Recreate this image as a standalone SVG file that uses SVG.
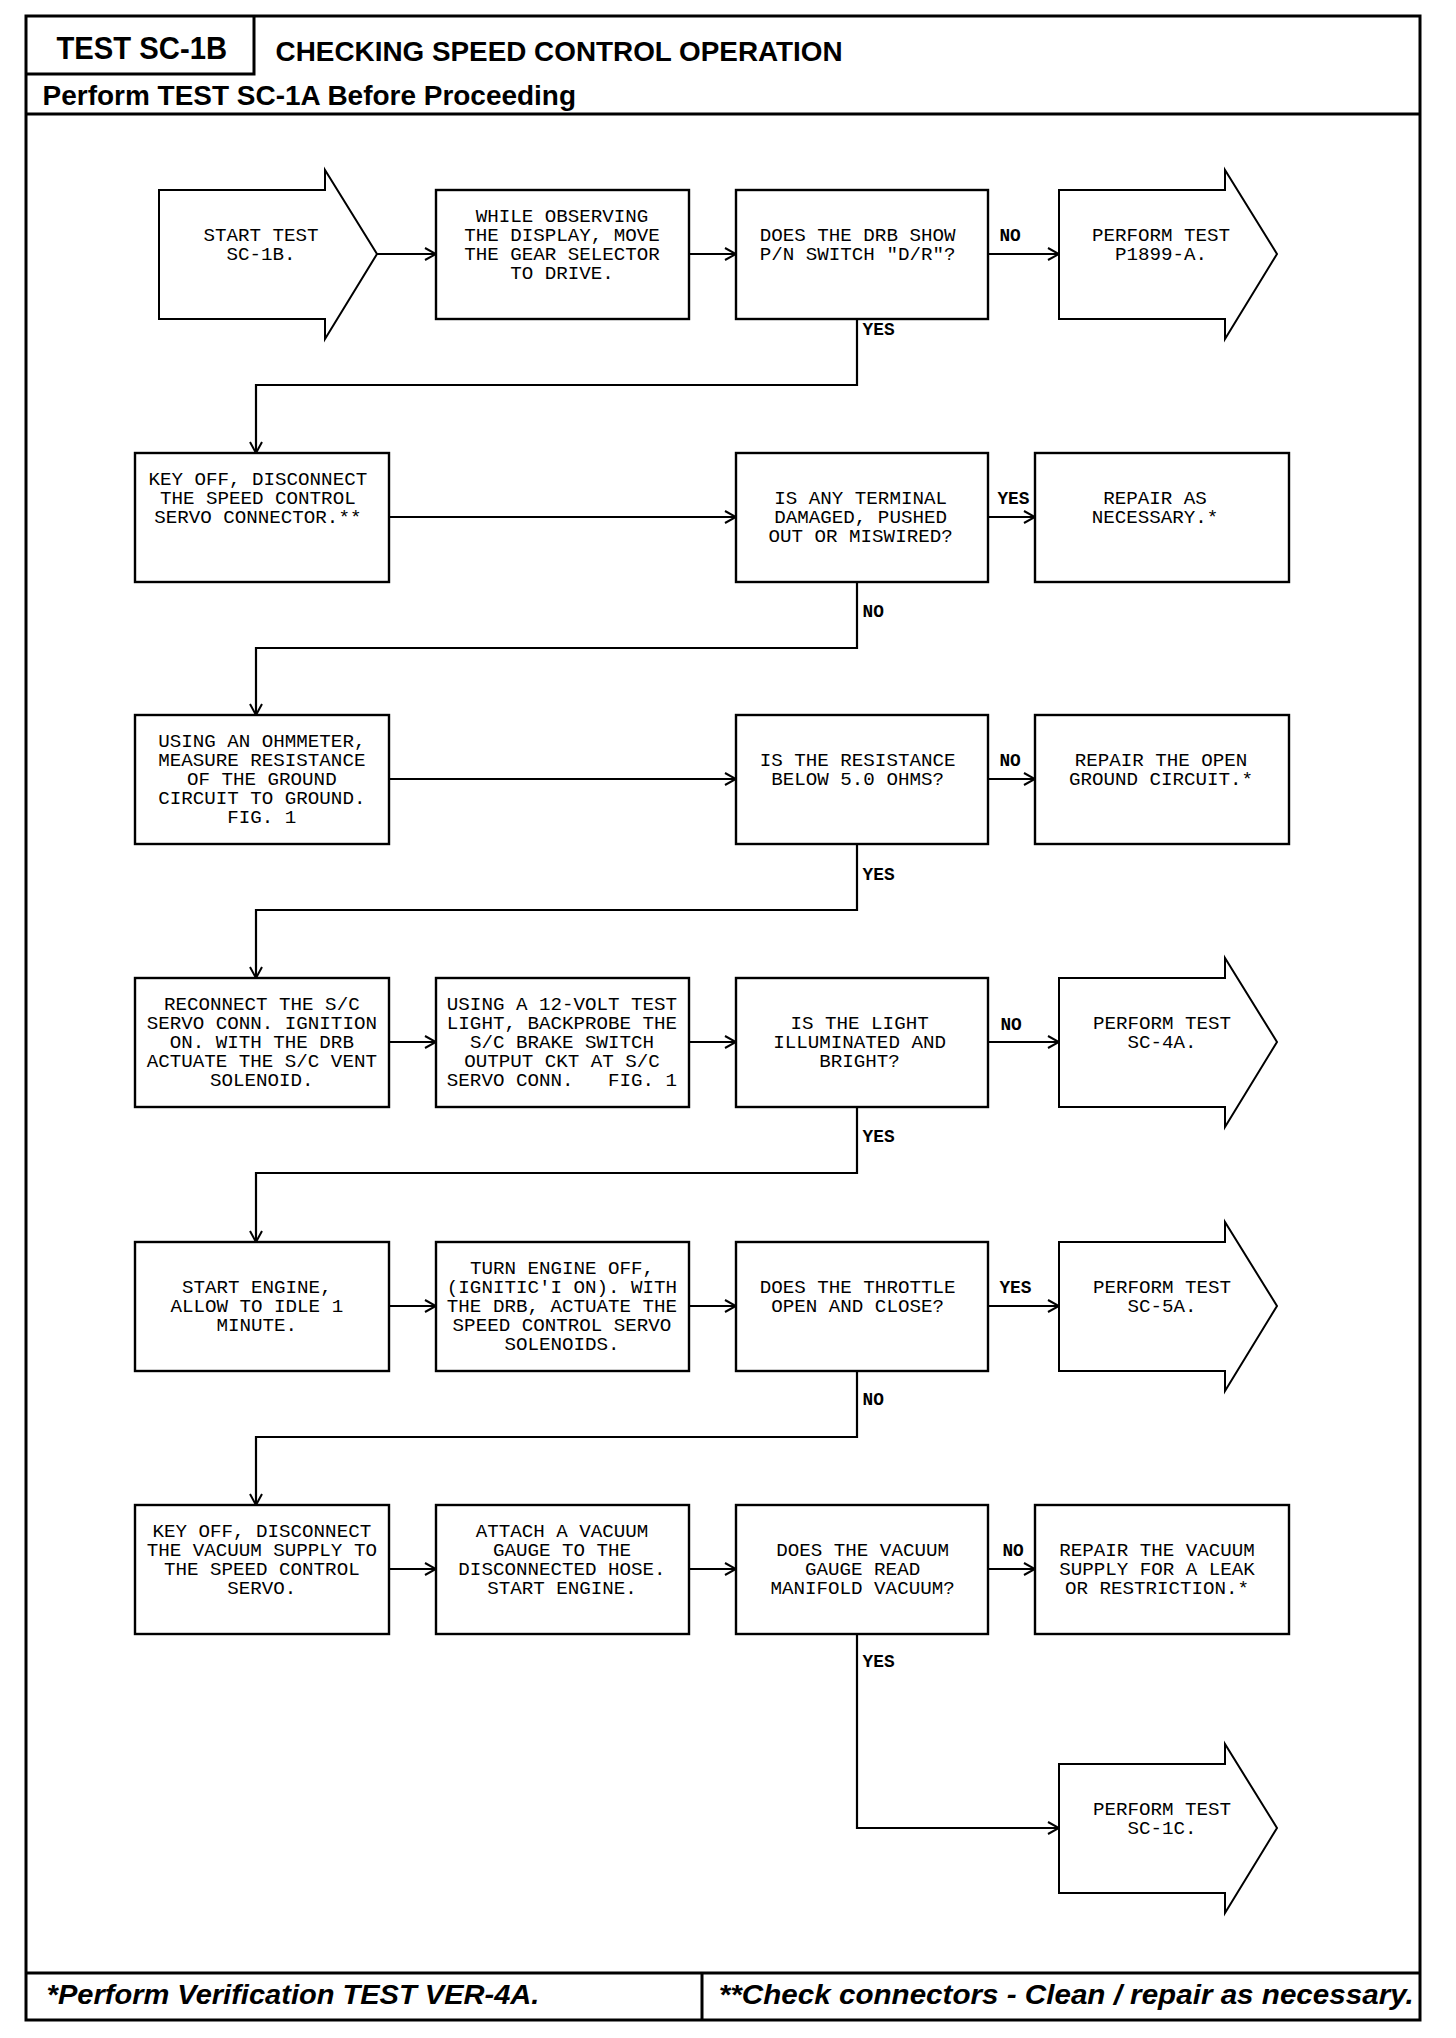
<svg xmlns="http://www.w3.org/2000/svg" width="1456" height="2038" viewBox="0 0 1456 2038">
<style>
.frame{fill:none;stroke:#000;stroke-width:3}
.box{fill:#fff;stroke:#000;stroke-width:2.4}
.arr{fill:#fff;stroke:#000;stroke-width:2;stroke-linejoin:miter}
.con{fill:none;stroke:#000;stroke-width:2.2}
.t{font-family:"Liberation Mono","DejaVu Sans Mono",monospace;font-size:19.2px;fill:#000;text-anchor:middle}
.lb{font-family:"Liberation Mono","DejaVu Sans Mono",monospace;font-size:17.8px;font-weight:bold;fill:#000}
.h{font-family:"Liberation Sans",Arial,sans-serif;font-weight:bold;fill:#000}
.f{font-family:"Liberation Sans",Arial,sans-serif;font-weight:bold;font-style:italic;fill:#000}
</style>
<defs>
<marker id="ah" markerUnits="userSpaceOnUse" markerWidth="14" markerHeight="14" viewBox="0 0 14 14" refX="13" refY="7" orient="auto">
<path d="M2,1 L13,7 L2,13" fill="none" stroke="#000" stroke-width="2"/>
</marker>
</defs>
<rect width="1456" height="2038" fill="#fff"/>
<g id="frame">
<rect class="frame" x="26" y="16" width="1394" height="2004"/>
<path class="frame" d="M254,16 V74 H26"/>
<path class="frame" d="M26,114 H1420"/>
<path class="frame" d="M26,1973 H1420 M702,1973 V2020"/>
<text class="h" x="56.5" y="58.5" font-size="31.7" textLength="170.5" lengthAdjust="spacingAndGlyphs">TEST SC-1B</text>
<text class="h" x="275.6" y="60.5" font-size="27.8" textLength="567" lengthAdjust="spacingAndGlyphs">CHECKING SPEED CONTROL OPERATION</text>
<text class="h" x="42.6" y="105" font-size="26.8" textLength="533.4" lengthAdjust="spacingAndGlyphs">Perform TEST SC-1A Before Proceeding</text>
<text class="f" x="46.6" y="2004" font-size="27.8" textLength="492.8" lengthAdjust="spacingAndGlyphs">*Perform Verification TEST VER-4A.</text>
<text class="f" x="718.8" y="2004" font-size="27.8" textLength="695" lengthAdjust="spacingAndGlyphs">**Check connectors - Clean / repair as necessary.</text>
</g>
<g id="connectors">
<path class="con" d="M377,254 H436" marker-end="url(#ah)"/>
<path class="con" d="M689,254 H736" marker-end="url(#ah)"/>
<path class="con" d="M988,254 H1059" marker-end="url(#ah)"/>
<path class="con" d="M857,319 V385 H256 V453" marker-end="url(#ah)"/>
<path class="con" d="M389,517 H736" marker-end="url(#ah)"/>
<path class="con" d="M988,517 H1035" marker-end="url(#ah)"/>
<path class="con" d="M857,582 V648 H256 V715" marker-end="url(#ah)"/>
<path class="con" d="M389,779 H736" marker-end="url(#ah)"/>
<path class="con" d="M988,779 H1035" marker-end="url(#ah)"/>
<path class="con" d="M857,844 V910 H256 V978" marker-end="url(#ah)"/>
<path class="con" d="M389,1042 H436" marker-end="url(#ah)"/>
<path class="con" d="M689,1042 H736" marker-end="url(#ah)"/>
<path class="con" d="M988,1042 H1059" marker-end="url(#ah)"/>
<path class="con" d="M857,1107 V1173 H256 V1242" marker-end="url(#ah)"/>
<path class="con" d="M389,1306 H436" marker-end="url(#ah)"/>
<path class="con" d="M689,1306 H736" marker-end="url(#ah)"/>
<path class="con" d="M988,1306 H1059" marker-end="url(#ah)"/>
<path class="con" d="M857,1371 V1437 H256 V1505" marker-end="url(#ah)"/>
<path class="con" d="M389,1569 H436" marker-end="url(#ah)"/>
<path class="con" d="M689,1569 H736" marker-end="url(#ah)"/>
<path class="con" d="M988,1569 H1035" marker-end="url(#ah)"/>
<path class="con" d="M857,1634 V1828 H1059" marker-end="url(#ah)"/>
<text class="lb" x="999.4" y="241">NO</text>
<text class="lb" x="862.6" y="335">YES</text>
<text class="lb" x="997.4" y="503.7">YES</text>
<text class="lb" x="862.6" y="616.7">NO</text>
<text class="lb" x="999.4" y="766.4">NO</text>
<text class="lb" x="862.6" y="879.5">YES</text>
<text class="lb" x="1000.4" y="1030.2">NO</text>
<text class="lb" x="862.6" y="1142.2">YES</text>
<text class="lb" x="999.4" y="1292.9">YES</text>
<text class="lb" x="862.6" y="1405">NO</text>
<text class="lb" x="1002.4" y="1555.7">NO</text>
<text class="lb" x="862.6" y="1666.7">YES</text>
</g>
<g id="start">
<polygon class="arr" points="159,190 325,190 325,170 377,254 325,339 325,319 159,319"/>
<text class="t" y="240.7"><tspan x="261">START TEST</tspan><tspan x="261" dy="19">SC-1B.</tspan></text>
</g>
<g id="observe">
<rect class="box" x="436" y="190" width="253" height="129"/>
<text class="t" y="221.7"><tspan x="562">WHILE OBSERVING</tspan><tspan x="562" dy="19">THE DISPLAY, MOVE</tspan><tspan x="562" dy="19">THE GEAR SELECTOR</tspan><tspan x="562" dy="19">TO DRIVE.</tspan></text>
</g>
<g id="q-drb">
<rect class="box" x="736" y="190" width="252" height="129"/>
<text class="t" y="240.7"><tspan x="857.6">DOES THE DRB SHOW</tspan><tspan x="857.6" dy="19">P/N SWITCH "D/R"?</tspan></text>
</g>
<g id="p1899">
<polygon class="arr" points="1059,190 1225,190 1225,170 1277,254 1225,339 1225,319 1059,319"/>
<text class="t" y="240.7"><tspan x="1161">PERFORM TEST</tspan><tspan x="1161" dy="19">P1899-A.</tspan></text>
</g>
<g id="keyoff1">
<rect class="box" x="135" y="453" width="254" height="129"/>
<text class="t" y="484.7"><tspan x="257.8">KEY OFF, DISCONNECT</tspan><tspan x="257.8" dy="19">THE SPEED CONTROL</tspan><tspan x="257.8" dy="19">SERVO CONNECTOR.**</tspan></text>
</g>
<g id="q-terminal">
<rect class="box" x="736" y="453" width="252" height="129"/>
<text class="t" y="503.7"><tspan x="860.6">IS ANY TERMINAL</tspan><tspan x="860.6" dy="19">DAMAGED, PUSHED</tspan><tspan x="860.6" dy="19">OUT OR MISWIRED?</tspan></text>
</g>
<g id="repair1">
<rect class="box" x="1035" y="453" width="254" height="129"/>
<text class="t" y="503.7"><tspan x="1155">REPAIR AS</tspan><tspan x="1155" dy="19">NECESSARY.*</tspan></text>
</g>
<g id="ohmmeter">
<rect class="box" x="135" y="715" width="254" height="129"/>
<text class="t" y="746.7"><tspan x="261.8">USING AN OHMMETER,</tspan><tspan x="261.8" dy="19">MEASURE RESISTANCE</tspan><tspan x="261.8" dy="19">OF THE GROUND</tspan><tspan x="261.8" dy="19">CIRCUIT TO GROUND.</tspan><tspan x="261.8" dy="19">FIG. 1</tspan></text>
</g>
<g id="q-resistance">
<rect class="box" x="736" y="715" width="252" height="129"/>
<text class="t" y="765.7"><tspan x="857.6">IS THE RESISTANCE</tspan><tspan x="857.6" dy="19">BELOW 5.0 OHMS?</tspan></text>
</g>
<g id="repair2">
<rect class="box" x="1035" y="715" width="254" height="129"/>
<text class="t" y="765.7"><tspan x="1161">REPAIR THE OPEN</tspan><tspan x="1161" dy="19">GROUND CIRCUIT.*</tspan></text>
</g>
<g id="reconnect">
<rect class="box" x="135" y="978" width="254" height="129"/>
<text class="t" y="1009.7"><tspan x="261.8">RECONNECT THE S/C</tspan><tspan x="261.8" dy="19">SERVO CONN. IGNITION</tspan><tspan x="261.8" dy="19">ON. WITH THE DRB</tspan><tspan x="261.8" dy="19">ACTUATE THE S/C VENT</tspan><tspan x="261.8" dy="19">SOLENOID.</tspan></text>
</g>
<g id="testlight">
<rect class="box" x="436" y="978" width="253" height="129"/>
<text class="t" y="1009.7"><tspan x="562">USING A 12-VOLT TEST</tspan><tspan x="562" dy="19">LIGHT, BACKPROBE THE</tspan><tspan x="562" dy="19">S/C BRAKE SWITCH</tspan><tspan x="562" dy="19">OUTPUT CKT AT S/C</tspan><tspan x="562" dy="19" xml:space="preserve">SERVO CONN.   FIG. 1</tspan></text>
</g>
<g id="q-light">
<rect class="box" x="736" y="978" width="252" height="129"/>
<text class="t" y="1028.7"><tspan x="859.6">IS THE LIGHT</tspan><tspan x="859.6" dy="19">ILLUMINATED AND</tspan><tspan x="859.6" dy="19">BRIGHT?</tspan></text>
</g>
<g id="sc4a">
<polygon class="arr" points="1059,978 1225,978 1225,958 1277,1042 1225,1127 1225,1107 1059,1107"/>
<text class="t" y="1028.7"><tspan x="1162">PERFORM TEST</tspan><tspan x="1162" dy="19">SC-4A.</tspan></text>
</g>
<g id="startengine">
<rect class="box" x="135" y="1242" width="254" height="129"/>
<text class="t" y="1292.7"><tspan x="256.8">START ENGINE,</tspan><tspan x="256.8" dy="19">ALLOW TO IDLE 1</tspan><tspan x="256.8" dy="19">MINUTE.</tspan></text>
</g>
<g id="engineoff">
<rect class="box" x="436" y="1242" width="253" height="129"/>
<text class="t" y="1273.7"><tspan x="562">TURN ENGINE OFF,</tspan><tspan x="562" dy="19">(IGNITIC'I ON). WITH</tspan><tspan x="562" dy="19">THE DRB, ACTUATE THE</tspan><tspan x="562" dy="19">SPEED CONTROL SERVO</tspan><tspan x="562" dy="19">SOLENOIDS.</tspan></text>
</g>
<g id="q-throttle">
<rect class="box" x="736" y="1242" width="252" height="129"/>
<text class="t" y="1292.7"><tspan x="857.6">DOES THE THROTTLE</tspan><tspan x="857.6" dy="19">OPEN AND CLOSE?</tspan></text>
</g>
<g id="sc5a">
<polygon class="arr" points="1059,1242 1225,1242 1225,1222 1277,1306 1225,1391 1225,1371 1059,1371"/>
<text class="t" y="1292.7"><tspan x="1162">PERFORM TEST</tspan><tspan x="1162" dy="19">SC-5A.</tspan></text>
</g>
<g id="keyoff2">
<rect class="box" x="135" y="1505" width="254" height="129"/>
<text class="t" y="1536.7"><tspan x="261.8">KEY OFF, DISCONNECT</tspan><tspan x="261.8" dy="19">THE VACUUM SUPPLY TO</tspan><tspan x="261.8" dy="19">THE SPEED CONTROL</tspan><tspan x="261.8" dy="19">SERVO.</tspan></text>
</g>
<g id="gauge">
<rect class="box" x="436" y="1505" width="253" height="129"/>
<text class="t" y="1536.7"><tspan x="562">ATTACH A VACUUM</tspan><tspan x="562" dy="19">GAUGE TO THE</tspan><tspan x="562" dy="19">DISCONNECTED HOSE.</tspan><tspan x="562" dy="19">START ENGINE.</tspan></text>
</g>
<g id="q-vacuum">
<rect class="box" x="736" y="1505" width="252" height="129"/>
<text class="t" y="1555.7"><tspan x="862.6">DOES THE VACUUM</tspan><tspan x="862.6" dy="19">GAUGE READ</tspan><tspan x="862.6" dy="19">MANIFOLD VACUUM?</tspan></text>
</g>
<g id="repair3">
<rect class="box" x="1035" y="1505" width="254" height="129"/>
<text class="t" y="1555.7"><tspan x="1157">REPAIR THE VACUUM</tspan><tspan x="1157" dy="19">SUPPLY FOR A LEAK</tspan><tspan x="1157" dy="19">OR RESTRICTION.*</tspan></text>
</g>
<g id="sc1c">
<polygon class="arr" points="1059,1764 1225,1764 1225,1744 1277,1828 1225,1913 1225,1893 1059,1893"/>
<text class="t" y="1814.7"><tspan x="1162">PERFORM TEST</tspan><tspan x="1162" dy="19">SC-1C.</tspan></text>
</g>
</svg>
